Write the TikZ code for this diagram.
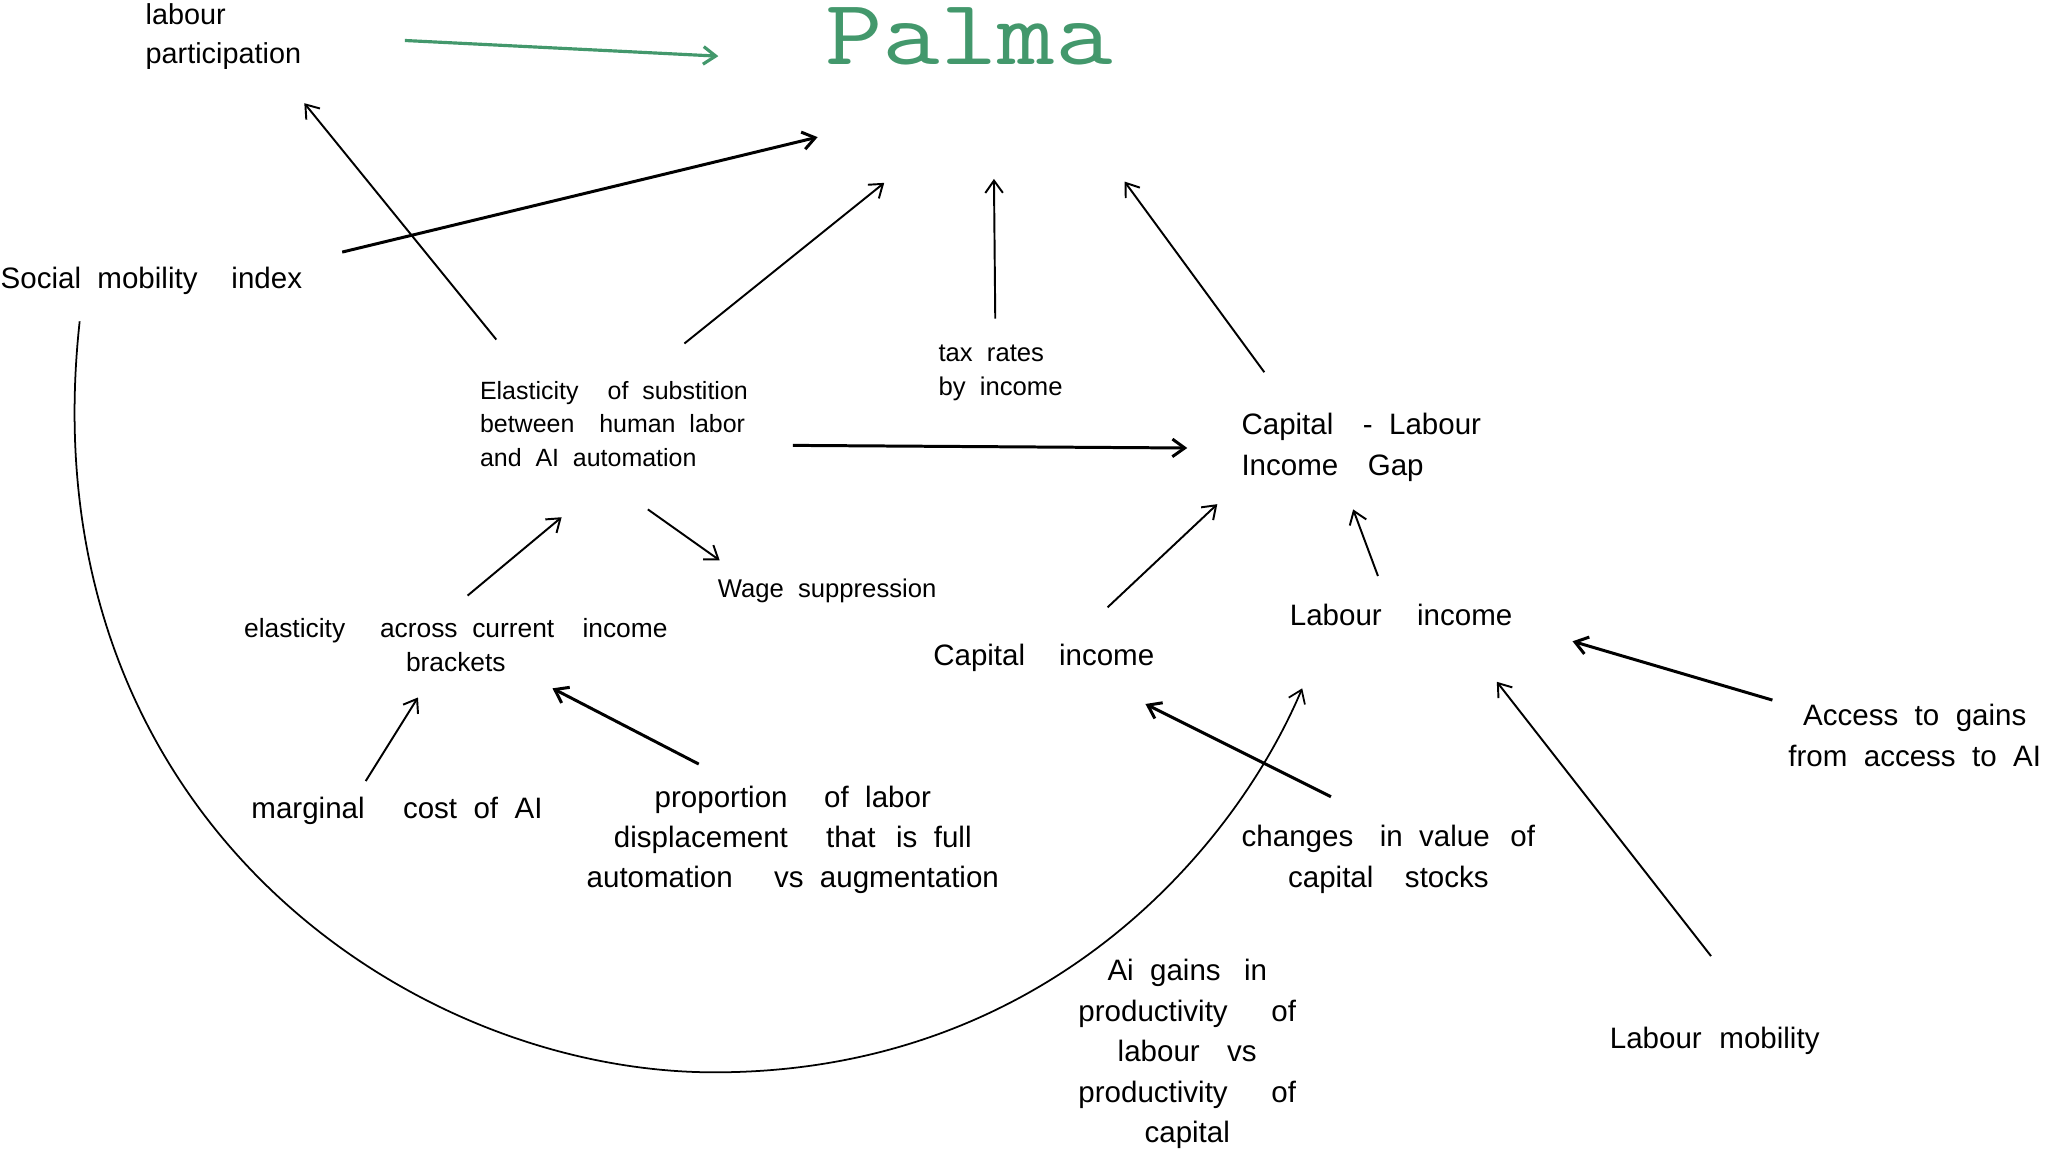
\documentclass[tikz,border=0pt]{standalone}
\usepackage{fontspec}
\usepackage{graphicx}
\setmainfont[WordSpace=2]{Liberation Sans}
\usetikzlibrary{arrows.meta}
\definecolor{palmagreen}{RGB}{67,152,108}
\newcommand{\gp}[1][0.9]{\hspace{#1em}}
\tikzset{
  big/.style={inner sep=0pt, font=\fontsize{8.4}{11.5}\selectfont},
  small/.style={inner sep=0pt, font=\fontsize{7.3}{9.7}\selectfont},
  link/.style={-{Straight Barb[length=3.5pt,width=5pt]}, line width=0.55pt},
  thick link/.style={link, line width=0.85pt},
}
\begin{document}
\begin{tikzpicture}[x=0.013061cm,y=-0.013061cm]
\useasboundingbox (0,0) rectangle (1568,881);
% nodes
\node (palma) at (742,28) {\textcolor{palmagreen}{\scalebox{1.2}[1]{\fontsize{26.5}{30}\selectfont\ttfamily Palma}}};
\node[inner sep=0pt, font=\fontsize{8.2}{11.3}\selectfont, align=left, anchor=west] (lab) at (111,28) {labour\\participation};
\node[big, anchor=west] (soc) at (0,215) {Social mobility\gp[1.15]index};
\node[small, font=\fontsize{7.1}{9.5}\selectfont, align=left, anchor=west] (elast) at (367,324.5) {Elasticity\gp[1.17]of substition\\between\gp[1]human labor\\and AI automation};
\node[small, align=left, anchor=west] (tax) at (718,285.5) {tax rates\\by income};
\node[big, align=left, anchor=west] (gap) at (950,342.5) {Capital\gp[1]- Labour\\Income\gp[1]Gap};
\node[small, anchor=west] (wage) at (549,452) {Wage suppression};
\node[small, font=\fontsize{7.5}{9.8}\selectfont, align=center] (across) at (349,494) {elasticity\gp[1.32]across current\gp[1.07]income\\brackets};
\node[big, anchor=west] (capinc) at (714,504) {Capital\gp[1.15]income};
\node[big, anchor=west] (labinc) at (987,471) {Labour\gp[1.2]income};
\node[big, align=center] (access) at (1466,563) {Access to gains\\from access to AI};
\node[big, anchor=west] (marg) at (192,621) {marginal\gp[1.3]cost of AI};
\node[big, align=center] (prop) at (607,643) {proportion\gp[1.24]of labor\\displacement\gp[1.3]that\gp[0.7]is full\\automation\gp[1.4]vs augmentation};
\node[big, align=center] (chg) at (1063,658) {changes\gp[0.9]in value\gp[0.7]of\\capital\gp[1.07]stocks};
\node[big, align=center] (aigain) at (909,807) {Ai gains\gp[0.79]in\\productivity\gp[1.48]of\\labour\gp[0.93]vs\\productivity\gp[1.48]of\\capital};
\node[big, anchor=west] (labmob) at (1232,797) {Labour\gp[0.6]mobility};
% connectors
\draw[link, palmagreen, line width=0.9pt] ([shift={(199,3)}]lab.west) -- ([shift={(-192,15)}]palma.center);
\draw[link] ([shift={(13,-64.5)}]elast.west) -- ([shift={(122,51)}]lab.west);
\draw[thick link] ([shift={(262,-22)}]soc.west) -- ([shift={(-116,77)}]palma.center);
\draw[link] ([shift={(157,-61.5)}]elast.west) -- ([shift={(-65,112)}]palma.center);
\draw[link] ([shift={(44,-41.5)}]tax.west) -- ([shift={(19,109)}]palma.center);
\draw[link] ([shift={(18,-57.5)}]gap.west) -- ([shift={(119,111)}]palma.center);
\draw[thick link] ([shift={(240,16.5)}]elast.west) -- ([shift={(-41,0.5)}]gap.west);
\draw[link] ([shift={(129,65.5)}]elast.west) -- ([shift={(2,-23)}]wage.west);
\draw[link] ([shift={(9,-38)}]across.center) -- ([shift={(63,71.5)}]elast.west);
\draw[link] ([shift={(88,-23)}]marg.west) -- ([shift={(-29,40)}]across.center);
\draw[thick link] ([shift={(-72,-58)}]prop.center) -- ([shift={(74,33)}]across.center);
\draw[link] ([shift={(134,-39)}]capinc.west) -- ([shift={(-18,43.5)}]gap.west);
\draw[link] ([shift={(68,-30)}]labinc.west) -- ([shift={(86,47.5)}]gap.west);
\draw[thick link] ([shift={(-109,-27)}]access.center) -- ([shift={(217,20)}]labinc.west);
\draw[link] ([shift={(78,-65)}]labmob.west) -- ([shift={(159,51)}]labinc.west);
\draw[thick link] ([shift={(-44,-48)}]chg.center) -- ([shift={(163,35)}]capinc.west);
\draw[link, line width=0.5pt] ([shift={(61,31)}]soc.west) .. controls (20,620) and (310,821) .. (547,821)
  .. controls (800,821) and (945,650) .. ([shift={(10,56)}]labinc.west);
\end{tikzpicture}
\end{document}
